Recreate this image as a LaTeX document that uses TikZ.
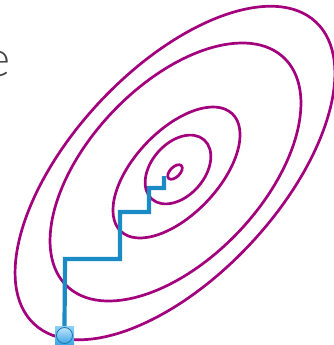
\documentclass[tikz,border=0pt]{standalone}
\usepackage{fontspec}
\newfontfamily\lightfont{Lato Light}
\begin{document}
\begin{tikzpicture}[x=1pt,y=-1pt,
  contour/.style={draw=contourcol,line width=2.7pt},
  pathline/.style={draw=pathblue,line width=4.2pt,line join=miter},
  marker/.style={rectangle,minimum size=19pt,inner sep=0pt,top color=markerlight,bottom color=markerdark,draw=none},
  markerdot/.style={circle,minimum size=16pt,inner sep=0pt,draw=pathblue!85!black,line width=0.8pt,top color=markerlight!60!white,bottom color=markerdark},
  labeltext/.style={text=textgray,font=\lightfont\fontsize{50}{50}\selectfont,inner sep=0pt}]
\definecolor{contourcol}{HTML}{A3007D}
\definecolor{pathblue}{HTML}{1B8BC6}
\definecolor{markerlight}{HTML}{8ED0F7}
\definecolor{markerdark}{HTML}{3FA6E6}
\definecolor{textgray}{HTML}{444444}
\useasboundingbox (0,0) rectangle (334,345);
\node[labeltext,anchor=base east] (lbl) at (11,77) {e};
\draw[contour,rotate around={45:(175,172)}] (175,172) ellipse [x radius=9,y radius=5];
\draw[contour,rotate around={48.5:(178,169.5)}] (178,169.5) ellipse [x radius=39.5,y radius=26.5];
\draw[contour,rotate around={46.5:(176.5,172.5)}] (176.5,172.5) ellipse [x radius=81,y radius=42];
\draw[contour,rotate around={46.5:(175.5,172)}] (175.5,172) ellipse [x radius=157.5,y radius=87];
\draw[contour,rotate around={47:(175,173)}] (175,173) ellipse [x radius=206.5,y radius=103.5];
\node[marker] (start) at (64.5,335.5) {};
\node[markerdot] (startdot) at (start.center) {};
\coordinate (finish) at (164,176);
\draw[pathline] (start.north) -- (65,259) -- (120,259) -- (120,212) -- (149,212) -- (149,188) -- (164,188) -- (finish);
\end{tikzpicture}
\end{document}
